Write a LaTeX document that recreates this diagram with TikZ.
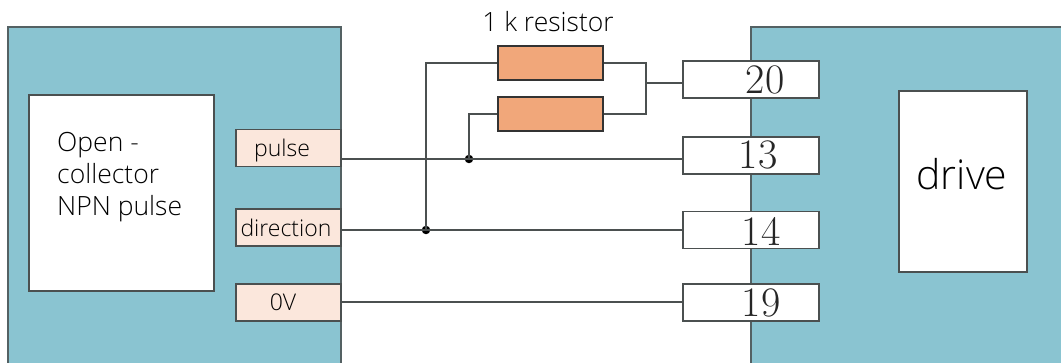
\documentclass[tikz,border=0pt]{standalone}
\usepackage{fontspec}
\setmainfont{Open Sans Light}
\newfontfamily\cmfont{Latin Modern Roman}
\definecolor{blockblue}{RGB}{138,196,209}
\definecolor{portpink}{RGB}{251,231,220}
\definecolor{resorange}{RGB}{241,167,122}
\definecolor{wiregray}{RGB}{75,80,80}
\tikzset{
  wire/.style={draw=wiregray,line width=1.2pt},
  block/.style={draw=wiregray!85!blockblue,line width=1.4pt},
  inner/.style={draw=wiregray,line width=1.4pt,fill=white,inner sep=0pt},
  port/.style={draw=wiregray,line width=1.4pt,fill=portpink,inner sep=0pt,minimum width=105pt,minimum height=37pt},
  terminal/.style={draw=wiregray,line width=1.4pt,fill=white,inner sep=0pt,minimum width=136pt,minimum height=37pt},
  numtxt/.style={font=\cmfont\fontsize{42}{42}\selectfont,text=black!85,inner sep=0pt},
  res/.style={draw=black!80,line width=1.6pt,fill=resorange,inner sep=0pt,minimum width=105pt,minimum height=34pt},
  dot/.style={circle,fill=black,inner sep=0pt,minimum size=8.5pt},
  lbl/.style={font=\fontsize{23}{23}\selectfont,text=black,inner sep=0pt,anchor=base}
}
\begin{document}
\begin{tikzpicture}[x=1pt,y=-1pt]
\useasboundingbox (0,0) rectangle (1061,363);
% the two blocks, both run off the picture
\fill[blockblue] (8,27) rectangle (341,363);
\fill[blockblue] (751,27) rectangle (1061,363);
\draw[block] (8,363) -- (8,27) -- (341,27) -- (341,363);
\draw[block] (1061,27) -- (751,27) -- (751,363);
\node[inner,minimum width=185pt,minimum height=196pt] (host) at (121.5,193) {};
\node[inner,minimum width=128pt,minimum height=181pt] (servo) at (963,181.5) {};
\node[lbl,font=\fontsize{41}{41}\selectfont] (drivetxt) at (962,190) {drive};
\node[lbl,align=left,anchor=base west,font=\fontsize{26.5}{32}\selectfont] (hosttxt) at (57,216) {Open -\\collector\\NPN pulse};
% ports on the left
\foreach \name/\y/\tx/\ty/\txt in {pulse/148/282/157/pulse, direction/227.5/286/237/direction, zero/302.5/283/311/0V}{
  \node[port] (\name) at (288.5,\y) {};
  \node[lbl] (\name txt) at (\tx,\ty) {\txt};
}
% terminals on the right
\foreach \num/\y/\tx/\ty in {20/79.5/765/80, 13/155.5/758/155, 14/230/761/231, 19/302.5/761/303}{
  \node[terminal] (t\num) at (751,\y) {};
  \node[numtxt] (n\num) at (\tx,\ty) {\num};
}
% resistors
\node[res] (resa) at (550.5,63) {};
\node[res] (resb) at (550.5,114) {};
\node[lbl,font=\fontsize{26.5}{26.5}\selectfont] (restxt) at (548,32) {1 k resistor};
% junctions
\node[dot] (jpulse) at (469,159) {};
\node[dot] (jdir) at (426,230) {};
\coordinate (split) at (646,83);
\coordinate (zeroy) at (600,302);
% wires
\draw[wire] (jpulse -| pulse.east) -- (jpulse -| t13.west);
\draw[wire] (jdir -| direction.east) -- (jdir -| t14.west);
\draw[wire] (zeroy -| zero.east) -- (zeroy -| t19.west);
\draw[wire] (jdir.center) |- (resa.west);
\draw[wire] (jpulse.center) |- (resb.west);
\draw[wire] (resa.east) -| (split);
\draw[wire] (resb.east) -| (split);
\draw[wire] (split) -- (split -| t20.west);
\end{tikzpicture}
\end{document}
